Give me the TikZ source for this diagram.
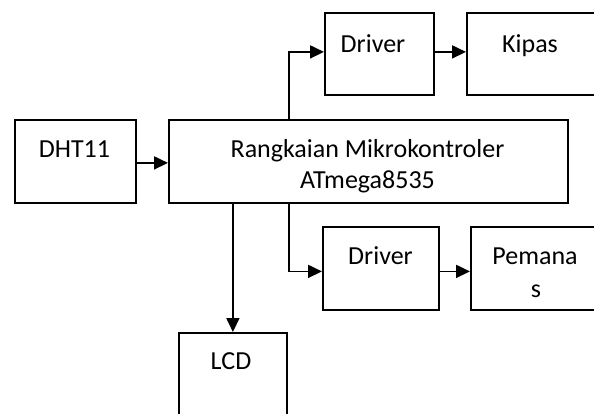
\documentclass[tikz,border=0pt]{standalone}
\usepackage{fontspec}
\setmainfont{Carlito}
\usetikzlibrary{arrows.meta}
\begin{document}
\begin{tikzpicture}[x=1pt,y=-1pt,
  box/.style={draw, line width=1.8pt, rectangle, anchor=north west, inner sep=0pt},
  arr/.style={line width=1.8pt, -{Triangle[length=14pt,width=13pt]}},
  ln/.style={line width=1.8pt},
  txt/.style={anchor=base, inner sep=0pt, font=\fontsize{26}{31}\selectfont}]
\useasboundingbox (0,0) rectangle (594,413);
\clip (0,0) rectangle (594,413);
% boxes
\node[box, minimum width=121pt, minimum height=83pt] (dht) at (14,119) {};
\node[box, minimum width=399pt, minimum height=83pt] (mcu) at (168,119) {};
\node[box, minimum width=109pt, minimum height=82pt] (drv1) at (324,12) {};
\node[box, minimum width=135pt, minimum height=82pt] (kipas) at (466,12) {};
\node[box, minimum width=116pt, minimum height=83pt] (drv2) at (322,226) {};
\node[box, minimum width=132pt, minimum height=83pt] (pem) at (470,226) {};
\node[box, minimum width=108pt, minimum height=100pt] (lcd) at (178,332) {};
% texts
\node[txt] (tdht) at (74.5,157) {DHT11};
\node[txt] (tmcu1) at (367.5,157) {Rangkaian Mikrokontroler};
\begin{scope}
  \clip (170,120) rectangle (565,194);
  \node[txt] (tmcu2) at (367.5,188) {ATmega8535};
\end{scope}
\node[txt] (tdrv1) at (373,52) {Driver};
\node[txt] (tkipas) at (530,52) {Kipas};
\node[txt] (tdrv2) at (380.5,264) {Driver};
\node[txt] (tpem1) at (535,264) {Pemana};
\node[txt] (tpem2) at (536,297) {s};
\node[txt] (tlcd) at (231,369) {LCD};
% connectors
\draw[arr] ([yshift=-1.5pt]dht.east) -- ([yshift=-1.5pt]mcu.west);
\draw[arr] ([xshift=121pt]mcu.north west) |- ([yshift=2pt]drv1.west);
\draw[arr] ([yshift=2pt]drv1.east) -- ([yshift=2pt]kipas.west);
\draw[arr] ([xshift=121pt]mcu.south west) |- ([yshift=-3pt]drv2.west);
\draw[arr] ([yshift=-3pt]drv2.east) -- ([yshift=-3pt]pem.west);
\draw[arr] (mcu.south -| lcd.north) -- (lcd.north);
\end{tikzpicture}
\end{document}
